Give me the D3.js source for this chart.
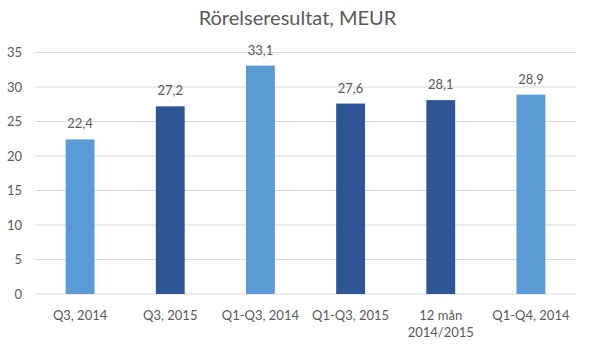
<!DOCTYPE html>
<html>
<head>
<meta charset="utf-8">
<script src="https://cdn.jsdelivr.net/npm/d3@7"></script>
<style>
  body { margin: 0; background: #fff; }
  text { font-family: Lato, "Open Sans", sans-serif; fill: #595959; }
</style>
</head>
<body>
<svg id="chart" width="591" height="353"></svg>
<script>
// Chart data
const categories = [["Q3, 2014"], ["Q3, 2015"], ["Q1-Q3, 2014"], ["Q1-Q3, 2015"], ["12 mån", "2014/2015"], ["Q1-Q4, 2014"]];
const values = [22.4, 27.2, 33.1, 27.6, 28.1, 28.9];
const barColors = ["#5B9BD5", "#2F5597", "#5B9BD5", "#2F5597", "#2F5597", "#5B9BD5"];
const yTicks = [0, 5, 10, 15, 20, 25, 30, 35];
const title = "Rörelseresultat, MEUR";

const svg = d3.select("#chart");
const margin = { left: 35, right: 15, top: 52.5, bottom: 59 };
const width = 591 - margin.left - margin.right;
const height = 353 - margin.top - margin.bottom;

const g = svg.append("g").attr("transform", `translate(${margin.left},${margin.top})`);

const x = d3.scaleBand()
  .domain(d3.range(values.length))
  .range([0, width])
  .paddingInner(0.68)
  .paddingOuter(0.34);

const y = d3.scaleLinear().domain([0, 35]).range([height, 0]);

// title
svg.append("text")
  .attr("x", 591 / 2 + 2)
  .attr("y", 25)
  .attr("text-anchor", "middle")
  .style("font-size", "20px")
  .text(title);

// gridlines
g.selectAll(".grid")
  .data(yTicks)
  .enter().append("line")
  .attr("x1", 0).attr("x2", width)
  .attr("y1", d => y(d)).attr("y2", d => y(d))
  .attr("stroke", "#d9d9d9")
  .attr("stroke-width", 1);

// y labels
g.selectAll(".ylab")
  .data(yTicks)
  .enter().append("text")
  .attr("x", -13)
  .attr("y", d => y(d))
  .attr("dy", "0.35em")
  .attr("text-anchor", "end")
  .style("font-size", "13px")
  .text(d => d);

// bars
g.selectAll(".bar")
  .data(values)
  .enter().append("rect")
  .attr("x", (d, i) => x(i))
  .attr("width", x.bandwidth())
  .attr("y", d => y(d))
  .attr("height", d => height - y(d))
  .attr("fill", (d, i) => barColors[i]);

// data labels
g.selectAll(".vlab")
  .data(values)
  .enter().append("text")
  .attr("x", (d, i) => x(i) + x.bandwidth() / 2)
  .attr("y", d => y(d) - 11)
  .attr("text-anchor", "middle")
  .style("font-size", "13px")
  .text(d => d3.format(".1f")(d).replace(".", ","));

// category labels
const cat = g.selectAll(".xlab")
  .data(categories)
  .enter().append("text")
  .attr("x", (d, i) => x(i) + x.bandwidth() / 2)
  .attr("y", height + 26)
  .attr("text-anchor", "middle")
  .style("font-size", "13px");

cat.selectAll("tspan")
  .data((d, i) => d.map(s => ({ s, i })))
  .enter().append("tspan")
  .attr("x", d => x(d.i) + x.bandwidth() / 2)
  .attr("dy", (d, j) => j === 0 ? 0 : 17)
  .text(d => d.s);
</script>
</body>
</html>
